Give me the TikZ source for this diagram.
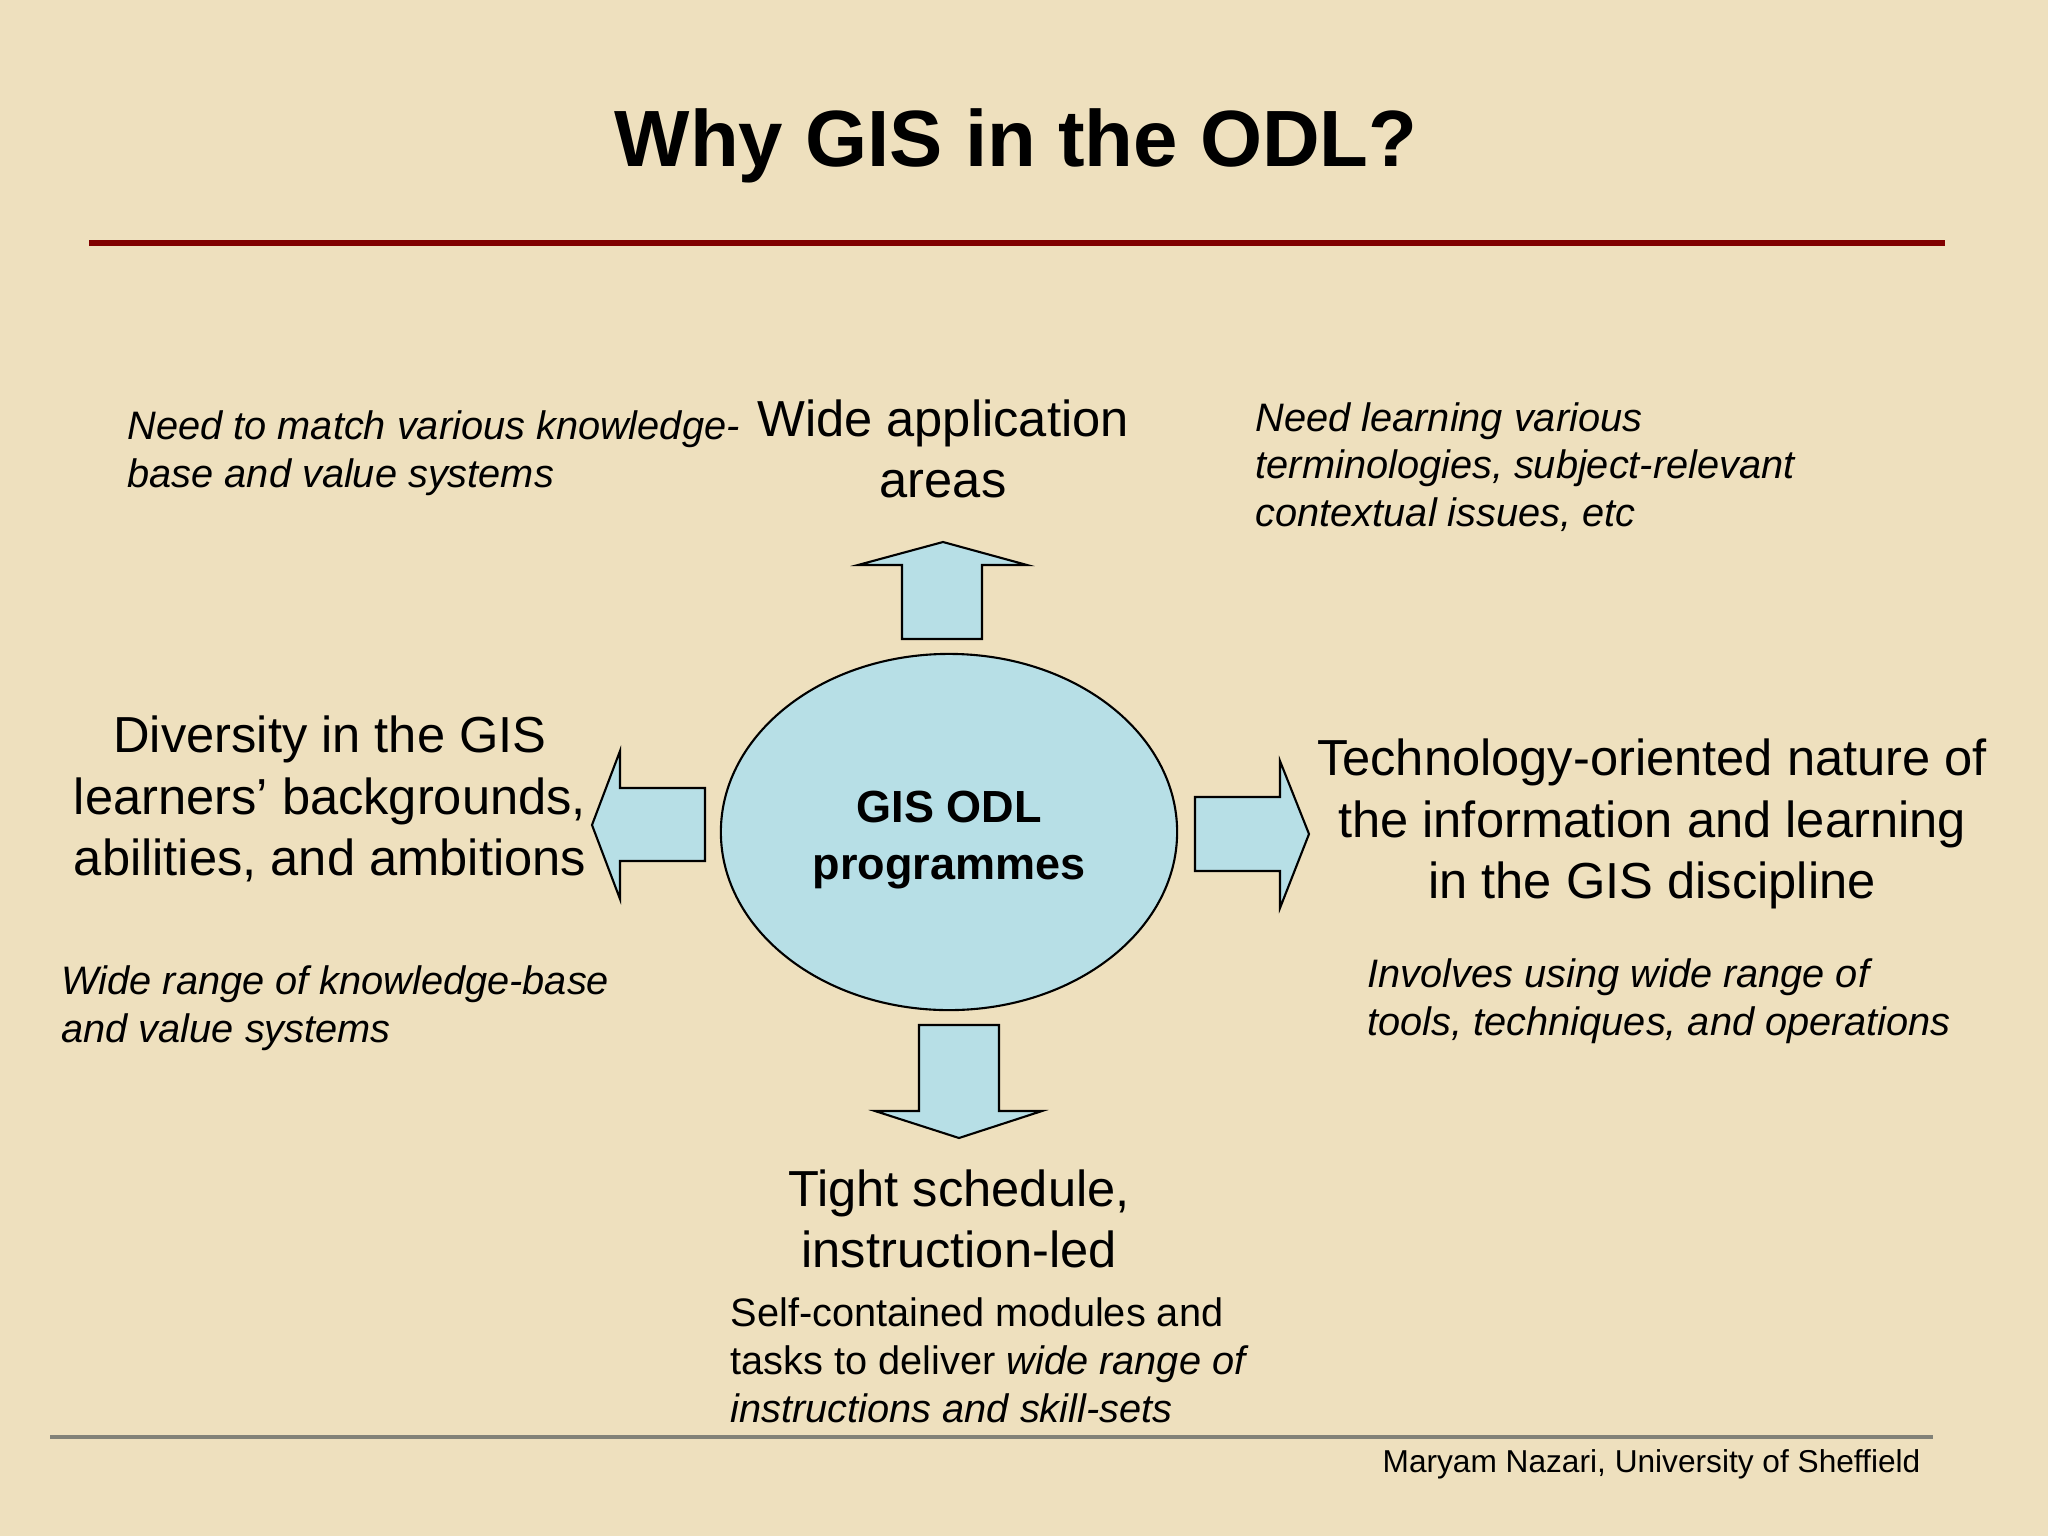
\documentclass[tikz,border=0pt]{standalone}
\usepackage{fontspec}
\setmainfont{Liberation Sans}
\usetikzlibrary{shapes.geometric}

\definecolor{parch}{RGB}{238,224,190}
\definecolor{hubblue}{RGB}{183,223,230}
\definecolor{rulered}{RGB}{128,0,0}
\definecolor{rulegray}{RGB}{130,130,120}

\tikzset{
  big/.style={font=\fontsize{14.4}{17.5}\selectfont, align=center, inner sep=0pt},
  small/.style={font=\fontsize{11.3}{13.6}\selectfont, align=left, inner sep=0pt, anchor=west},
  note/.style={small, font=\fontsize{11.3}{13.6}\selectfont\itshape},
  blockarrow/.style={fill=hubblue, draw=black, line width=0.6pt, line join=miter},
}

\begin{document}
\begin{tikzpicture}[x=0.01cm, y=-0.01cm]
    \fill[parch] (0,0) rectangle (2048,1536);
    \useasboundingbox (0,0) rectangle (2048,1536);

    \coordinate (RL) at (89,243);
    \coordinate (RR) at (1945,243);
    \coordinate (GL) at (50,1437);
    \coordinate (GR) at (1933,1437);

    \node[font=\fontsize{22.7}{28}\selectfont\bfseries, anchor=base, inner sep=0pt] (title) at (1016,166) {Why GIS in the ODL?};
    \draw[rulered, line width=1.6pt] (RL) -- (RR); % under title
    \draw[rulegray, line width=1.1pt] (GL) -- (GR); % footer

    \node[ellipse, draw, fill=hubblue, line width=0.6pt, minimum width=4.56cm, minimum height=3.56cm, inner sep=0pt] (hub) at (949,832) {};
    \node[font=\fontsize{12.8}{16}\selectfont\bfseries, align=center, inner sep=0pt] (hubtext) at (949,840) {GIS ODL\\programmes};

    \draw[blockarrow] (902,639) -- (902,565) -- (858,565) -- (943,542) -- (1027,565) -- (982,565) -- (982,639) -- cycle; % up
    \draw[blockarrow] (705,788) -- (620,788) -- (620,751) -- (592,825) -- (620,899) -- (620,861) -- (705,861) -- cycle; % left
    \draw[blockarrow] (1195,797) -- (1280,797) -- (1280,761) -- (1309,834) -- (1280,908) -- (1280,871) -- (1195,871) -- cycle; % right
    \draw[blockarrow] (919,1025) -- (919,1111) -- (875,1111) -- (959,1138) -- (1042,1111) -- (999,1111) -- (999,1025) -- cycle; % down

    \node[big] (apps) at (943,449) {Wide application\\areas};
    \node[note] (needL) at (127,453) {Need to match various knowledge-\\base and value systems};
    \node[note] (needR) at (1255,467) {Need learning various\\terminologies, subject-relevant\\contextual issues, etc};

    \node[big] (divers) at (330,799) {Diversity in the GIS\\learners’ backgrounds,\\abilities, and ambitions};
    \node[note] (rangeL) at (61,1008) {Wide range of knowledge-base\\and value systems};

    \node[big] (techno) at (1652,824) {Technology-oriented nature of\\the information and learning\\in the GIS discipline};
    \node[note] (tools) at (1367,1001) {Involves using wide range of\\tools, techniques, and operations};

    \node[big] (tight) at (959,1219) {Tight schedule,\\instruction-led};
    \node[small] (selfc) at (730,1360) {Self-contained modules and\\tasks to deliver \textit{wide range of}\\\textit{instructions and skill-sets}};

    \node[font=\fontsize{9}{11}\selectfont, anchor=base east, inner sep=0pt] (credit) at (1921,1472) {Maryam Nazari, University of Sheffield};
\end{tikzpicture}
\end{document}
